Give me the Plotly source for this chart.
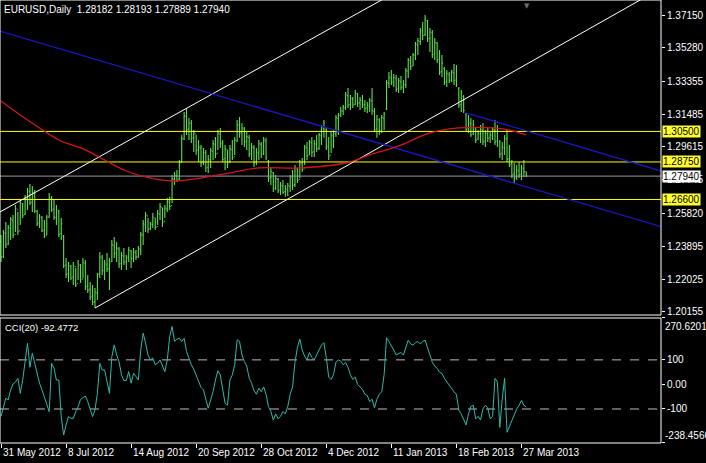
import plotly.graph_objects as go

# ---------------- DATA ----------------
title_text = "EURUSD,Daily\u00a0 1.28182 1.28193 1.27889 1.27940"
cci_title = "CCI(20) -92.4772"

open_ = [1.2420,1.2335,1.2465,1.2405,1.2495,1.2540,1.2460,1.2600,1.2480,1.2635,
 1.2575,1.2665,1.2705,1.2645,1.2695,1.2590,1.2525,1.2555,1.2485,1.2455,
 1.2560,1.2665,1.2605,1.2555,1.2595,1.2465,1.2450,1.2285,1.2235,1.2275,
 1.2215,1.2275,1.2180,1.2285,1.2205,1.2295,1.2165,1.2145,1.2105,1.2075,
 1.2125,1.2235,1.2325,1.2255,1.2285,1.2265,1.2305,1.2395,1.2355,1.2375,
 1.2295,1.2335,1.2305,1.2325,1.2365,1.2325,1.2355,1.2335,1.2375,1.2455,
 1.2515,1.2565,1.2495,1.2515,1.2555,1.2505,1.2575,1.2615,1.2535,1.2605,
 1.2645,1.2625,1.2775,1.2795,1.2775,1.2875,1.3005,1.3135,1.3065,1.3095,
 1.3015,1.3035,1.2945,1.2955,1.2875,1.2925,1.2845,1.2885,1.2935,1.2975,
 1.2925,1.3035,1.2985,1.2895,1.2945,1.2875,1.2945,1.2905,1.2995,1.3085,
 1.3045,1.3065,1.2995,1.3015,1.2925,1.2955,1.2875,1.2925,1.2975,1.2925,
 1.2995,1.2880,1.2785,1.2815,1.2725,1.2775,1.2715,1.2735,1.2705,1.2715,
 1.2735,1.2785,1.2745,1.2835,1.2775,1.2865,1.2835,1.2955,1.2915,1.2985,
 1.2935,1.2975,1.2955,1.3025,1.3065,1.3060,1.2965,1.2915,1.3025,1.3035,
 1.3125,1.3145,1.3165,1.3185,1.3255,1.3205,1.3235,1.3205,1.3265,1.3215,
 1.3225,1.3205,1.3185,1.3195,1.3225,1.3165,1.3065,1.3115,1.3055,1.3125,
 1.3180,1.3325,1.3355,1.3335,1.3355,1.3295,1.3335,1.3305,1.3315,1.3395,
 1.3455,1.3425,1.3485,1.3545,1.3565,1.3625,1.3605,1.3685,1.3585,1.3615,
 1.3495,1.3555,1.3465,1.3395,1.3410,1.3335,1.3375,1.3345,1.3385,1.3345,
 1.3295,1.3205,1.3250,1.3150,1.3065,1.3095,1.3035,1.3070,1.3005,1.3035,
 1.3055,1.2995,1.3035,1.3015,1.3025,1.3055,1.2995,1.2990,1.2925,1.2955,
 1.3005,1.2895,1.2865,1.2805,1.2785,1.2825,1.2805,1.2835,1.28182]

high = [1.2457,1.2485,1.2531,1.2514,1.2560,1.2571,1.2628,1.2588,1.2657,1.2640,
 1.2686,1.2726,1.2749,1.2737,1.2714,1.2600,1.2577,1.2565,1.2543,1.2571,
 1.2697,1.2680,1.2657,1.2628,1.2600,1.2554,1.2457,1.2325,1.2302,1.2285,
 1.2302,1.2268,1.2313,1.2291,1.2325,1.2313,1.2227,1.2187,1.2170,1.2153,
 1.2239,1.2359,1.2342,1.2313,1.2353,1.2325,1.2428,1.2445,1.2416,1.2388,
 1.2359,1.2382,1.2342,1.2388,1.2371,1.2382,1.2371,1.2394,1.2474,1.2543,
 1.2588,1.2554,1.2531,1.2583,1.2554,1.2600,1.2640,1.2611,1.2628,1.2668,
 1.2675,1.2800,1.2818,1.2829,1.2886,1.3030,1.3161,1.3184,1.3127,1.3115,
 1.3058,1.3030,1.3001,1.2972,1.2955,1.2944,1.2915,1.2955,1.3001,1.3018,
 1.3058,1.3070,1.3001,1.2972,1.2944,1.2972,1.3001,1.3018,1.3115,1.3133,
 1.3098,1.3076,1.3047,1.3030,1.2984,1.2972,1.2955,1.3001,1.2989,1.3018,
 1.3013,1.2886,1.2841,1.2818,1.2800,1.2783,1.2760,1.2772,1.2743,1.2754,
 1.2800,1.2829,1.2858,1.2841,1.2886,1.2898,1.2972,1.2989,1.3001,1.3018,
 1.3001,1.3030,1.3041,1.3087,1.3115,1.3070,1.3018,1.3047,1.3058,1.3144,
 1.3156,1.3190,1.3201,1.3276,1.3299,1.3259,1.3247,1.3287,1.3270,1.3247,
 1.3259,1.3230,1.3218,1.3241,1.3299,1.3184,1.3144,1.3127,1.3144,1.3161,
 1.3345,1.3390,1.3402,1.3379,1.3373,1.3356,1.3368,1.3345,1.3413,1.3471,
 1.3482,1.3499,1.3562,1.3585,1.3643,1.3677,1.3717,1.3688,1.3643,1.3631,
 1.3585,1.3562,1.3517,1.3488,1.3419,1.3402,1.3390,1.3402,1.3436,1.3431,
 1.3305,1.3287,1.3259,1.3156,1.3144,1.3127,1.3115,1.3076,1.3058,1.3087,
 1.3098,1.3058,1.3070,1.3047,1.3076,1.3115,1.3087,1.3001,1.2989,1.3030,
 1.3058,1.2972,1.2886,1.2869,1.2858,1.2875,1.2858,1.2886,1.28193]

low = [1.2302,1.2325,1.2382,1.2399,1.2428,1.2440,1.2474,1.2457,1.2514,1.2554,
 1.2571,1.2600,1.2628,1.2588,1.2583,1.2508,1.2497,1.2474,1.2440,1.2457,
 1.2554,1.2588,1.2543,1.2514,1.2445,1.2428,1.2268,1.2210,1.2187,1.2199,
 1.2170,1.2159,1.2199,1.2181,1.2210,1.2141,1.2124,1.2084,1.2055,1.2038,
 1.2084,1.2210,1.2227,1.2199,1.2245,1.2141,1.2302,1.2325,1.2302,1.2268,
 1.2256,1.2285,1.2256,1.2302,1.2268,1.2302,1.2313,1.2325,1.2342,1.2399,
 1.2474,1.2468,1.2485,1.2497,1.2485,1.2514,1.2543,1.2503,1.2554,1.2588,
 1.2600,1.2640,1.2743,1.2760,1.2772,1.2869,1.3001,1.3030,1.3001,1.2984,
 1.2932,1.2915,1.2875,1.2846,1.2858,1.2818,1.2812,1.2841,1.2886,1.2898,
 1.2944,1.2955,1.2875,1.2829,1.2841,1.2869,1.2886,1.2915,1.2989,1.3013,
 1.2972,1.2961,1.2944,1.2903,1.2886,1.2846,1.2858,1.2886,1.2898,1.2915,
 1.2886,1.2760,1.2743,1.2703,1.2714,1.2697,1.2686,1.2691,1.2675,1.2680,
 1.2703,1.2714,1.2732,1.2754,1.2783,1.2818,1.2858,1.2886,1.2915,1.2903,
 1.2903,1.2932,1.2944,1.2972,1.3013,1.2944,1.2886,1.2926,1.2955,1.3018,
 1.3030,1.3133,1.3144,1.3173,1.3184,1.3173,1.3184,1.3201,1.3190,1.3173,
 1.3184,1.3161,1.3156,1.3161,1.3144,1.3047,1.3013,1.3030,1.3041,1.3058,
 1.3173,1.3299,1.3316,1.3305,1.3276,1.3270,1.3287,1.3270,1.3299,1.3356,
 1.3402,1.3425,1.3459,1.3488,1.3545,1.3574,1.3597,1.3562,1.3505,1.3471,
 1.3459,1.3442,1.3373,1.3362,1.3316,1.3305,1.3327,1.3333,1.3316,1.3305,
 1.3184,1.3161,1.3156,1.3047,1.3041,1.3018,1.3030,1.2984,1.3001,1.2984,
 1.2972,1.2961,1.2989,1.2984,1.3001,1.2972,1.2961,1.2898,1.2886,1.2915,
 1.2875,1.2846,1.2783,1.2754,1.2772,1.2783,1.2772,1.2789,1.27889]

close = [1.2330,1.2470,1.2400,1.2500,1.2545,1.2455,1.2610,1.2475,1.2640,1.2570,
 1.2670,1.2710,1.2640,1.2700,1.2595,1.2520,1.2560,1.2480,1.2450,1.2560,
 1.2670,1.2600,1.2560,1.2600,1.2460,1.2520,1.2280,1.2230,1.2280,1.2210,
 1.2280,1.2170,1.2290,1.2200,1.2300,1.2160,1.2140,1.2100,1.2070,1.2130,
 1.2230,1.2330,1.2250,1.2290,1.2260,1.2300,1.2400,1.2350,1.2380,1.2290,
 1.2340,1.2300,1.2330,1.2370,1.2320,1.2360,1.2330,1.2380,1.2460,1.2520,
 1.2570,1.2490,1.2520,1.2560,1.2500,1.2580,1.2620,1.2530,1.2610,1.2650,
 1.2620,1.2780,1.2800,1.2770,1.2870,1.3010,1.3140,1.3060,1.3100,1.3010,
 1.3040,1.2940,1.2960,1.2870,1.2930,1.2840,1.2890,1.2940,1.2980,1.2920,
 1.3040,1.2980,1.2890,1.2950,1.2870,1.2950,1.2900,1.3000,1.3090,1.3040,
 1.3070,1.2990,1.3020,1.2920,1.2960,1.2870,1.2930,1.2980,1.2920,1.3000,
 1.2900,1.2780,1.2820,1.2720,1.2780,1.2710,1.2740,1.2700,1.2720,1.2740,
 1.2790,1.2740,1.2840,1.2770,1.2870,1.2830,1.2960,1.2910,1.2990,1.2930,
 1.2980,1.2950,1.3030,1.3070,1.3100,1.2960,1.2910,1.3030,1.3040,1.3130,
 1.3140,1.3170,1.3190,1.3260,1.3200,1.3240,1.3200,1.3270,1.3210,1.3230,
 1.3200,1.3180,1.3200,1.3230,1.3170,1.3060,1.3120,1.3050,1.3130,1.3150,
 1.3330,1.3360,1.3330,1.3360,1.3290,1.3340,1.3300,1.3320,1.3400,1.3460,
 1.3420,1.3490,1.3550,1.3570,1.3630,1.3600,1.3690,1.3580,1.3620,1.3490,
 1.3560,1.3460,1.3390,1.3440,1.3330,1.3380,1.3340,1.3390,1.3340,1.3320,
 1.3200,1.3270,1.3170,1.3060,1.3100,1.3030,1.3090,1.3000,1.3040,1.3060,
 1.2990,1.3040,1.3010,1.3030,1.3060,1.2990,1.3050,1.2920,1.2960,1.3010,
 1.2890,1.2860,1.2800,1.2780,1.2830,1.2800,1.2840,1.2820,1.27940]

cci = [-130,-90,-56,-63,-22,2,10,25,-36,18,
 100,168,70,127,86,46,5,-22,-52,-84,
 -111,86,66,18,18,-131,-206,-165,-131,-138,
 -138,-111,-90,-61,-52,-47,-70,-101,-131,-104,
 -36,86,59,59,12,-36,113,161,120,93,
 39,16,16,52,5,46,32,18,141,209,
 168,120,100,107,80,86,100,73,52,100,
 195,236,175,184,188,175,188,134,107,80,
 62,35,12,-12,-22,-61,-97,-63,-29,18,
 56,39,-22,-77,-84,18,39,80,182,175,
 120,93,75,25,5,-25,-40,-15,-30,-10,
 -40,-90,-110,-145,-120,-140,-130,-110,-120,-90,
 -40,-10,90,150,185,140,115,100,130,110,
 100,120,140,160,170,110,30,20,40,90,
 100,95,80,90,70,40,20,30,0,-10,
 -20,-40,-45,-70,-60,-95,-60,-40,-30,40,
 190,175,160,140,120,125,130,120,150,180,
 165,160,170,175,165,175,180,150,120,90,
 75,65,50,45,25,10,0,-15,-30,-40,
 -105,-120,-140,-165,-120,-90,-85,-140,-130,-145,
 -100,-85,-95,-140,-130,25,10,-175,-60,25,
 -195,-170,-145,-120,-100,-85,-65,-85,-92]

bars = list(range(len(close)))

# moving average (red), sampled at bar indices
ma_bars = [0, 8, 16, 24, 35, 43, 51, 60, 66, 72, 83, 95, 107, 124, 143, 153, 166, 178, 190, 204, 211, 218]
ma_vals = [1.3224, 1.3144, 1.3070, 1.3001, 1.2944, 1.2886, 1.2829, 1.2789, 1.2772, 1.2766, 1.2783,
           1.2812, 1.2841, 1.2841, 1.2869, 1.2915, 1.2972, 1.3041, 1.3070, 1.3070, 1.3058, 1.3030]

# trend lines: (bar, price) anchors
white_upper = ([-0.5, 160], [1.2588, 1.3819])
white_lower = ([39, 270], [1.2038, 1.3840])
blue_lower = ([-0.5, 274], [1.3625, 1.2504])
blue_upper = ([193, 274], [1.3156, 1.2823])

levels = [1.30500, 1.28750, 1.26600]
level_labels = ["1.30500", "1.28750", "1.26600"]
bid = 1.27940
bid_label = "1.27940"

price_ticks = [1.37150, 1.35280, 1.33355, 1.31485, 1.29615, 1.27745, 1.25820, 1.23895, 1.22025, 1.20155]
price_tick_text = ["1.37150", "1.35280", "1.33355", "1.31485", "1.29615", "1.27745", "1.25820", "1.23895", "1.22025", "1.20155"]

cci_max, cci_min = 270.6201, -238.4566
cci_levels = [100, -100]
cci_ticks = [cci_max, 100, 0, -100, cci_min]
cci_tick_text = ["", "100", "0.00", "-100", ""]

date_bars = [0, 27, 54, 81, 108, 135, 162, 189, 216]
date_labels = ["31 May 2012", "8 Jul 2012", "14 Aug 2012", "20 Sep 2012", "28 Oct 2012",
               "4 Dec 2012", "11 Jan 2013", "18 Feb 2013", "27 Mar 2013"]

# ---------------- STYLE ----------------
FONT = "Liberation Sans, Arial, sans-serif"
GREEN = "#5CE048"
XR = [-0.415, 273.9]
MAIN_DOM = [0.2889, 1.0]
CCI_DOM = [0.0, 0.2822]

fig = go.Figure()

# horizontal levels
for lv in levels:
    fig.add_trace(go.Scatter(x=XR, y=[lv, lv], mode="lines",
                             line=dict(color="#FFFF00", width=1), xaxis="x", yaxis="y"))
fig.add_trace(go.Scatter(x=XR, y=[bid, bid], mode="lines",
                         line=dict(color="#9A9AAA", width=1), xaxis="x", yaxis="y"))

# trend lines
for xs, ys in (white_upper, white_lower):
    fig.add_trace(go.Scatter(x=xs, y=ys, mode="lines", line=dict(color="#FFFFFF", width=1),
                             xaxis="x", yaxis="y"))
for xs, ys in (blue_lower, blue_upper):
    fig.add_trace(go.Scatter(x=xs, y=ys, mode="lines", line=dict(color="#1818C0", width=1.3),
                             xaxis="x", yaxis="y"))

# moving average
fig.add_trace(go.Scatter(x=ma_bars, y=ma_vals, mode="lines",
                         line=dict(color="#D01818", width=1.3, shape="spline"),
                         xaxis="x", yaxis="y"))

# OHLC bars
fig.add_trace(go.Ohlc(x=bars, open=open_, high=high, low=low, close=close,
                      increasing=dict(line=dict(color=GREEN, width=1.1)),
                      decreasing=dict(line=dict(color=GREEN, width=1.1)),
                      tickwidth=0.4, xaxis="x", yaxis="y", hoverinfo="skip"))

# CCI pane
for lv in cci_levels:
    fig.add_trace(go.Scatter(x=XR, y=[lv, lv], mode="lines",
                             line=dict(color="#BEBEBE", width=1, dash="dash"),
                             xaxis="x2", yaxis="y2"))
fig.add_trace(go.Scatter(x=bars, y=cci, mode="lines",
                         line=dict(color="#2FB8AA", width=1), xaxis="x2", yaxis="y2"))

tickfont = dict(family=FONT, size=10, color="#FFFFFF")

annotations = [
    dict(text=title_text, x=0, y=1, xref="paper", yref="paper", xanchor="left", yanchor="top",
         xshift=2, yshift=-2, showarrow=False, font=dict(family=FONT, size=10, color="#FFFFFF")),
    dict(text=cci_title, x=0, y=CCI_DOM[1], xref="paper", yref="paper", xanchor="left", yanchor="top",
         xshift=3, yshift=-2, showarrow=False, font=dict(family=FONT, size=9.5, color="#FFFFFF")),
    dict(text=f"{cci_max:.4f}", x=1, y=cci_max, xref="paper", yref="y2", xanchor="left", yanchor="top",
         xshift=2, yshift=-1, showarrow=False, font=tickfont),
    dict(text=f"{cci_min:.4f}", x=1, y=cci_min, xref="paper", yref="y2", xanchor="left", yanchor="bottom",
         xshift=2, showarrow=False, font=tickfont),
    dict(text="\u25BC", x=218.3, y=1, xref="x", yref="paper", yanchor="top", showarrow=False,
         font=dict(family="DejaVu Sans", size=7, color="#707070")),
]
for lv, lab in zip(levels, level_labels):
    annotations.append(dict(text=lab, x=1, y=lv, xref="paper", yref="y", xanchor="left", yanchor="middle",
                            xshift=1, showarrow=False, bgcolor="#FFFF33", borderpad=0,
                            font=dict(family=FONT, size=10, color="#000000")))
annotations.append(dict(text=bid_label, x=1, y=bid, xref="paper", yref="y", xanchor="left", yanchor="middle",
                        xshift=1, showarrow=False, bgcolor="#FFFFFF", borderpad=0,
                        font=dict(family=FONT, size=10, color="#000000")))
for b, lab in zip(date_bars, date_labels):
    annotations.append(dict(text=lab, x=b, y=0, xref="x2", yref="paper", xanchor="left", yanchor="top",
                            xshift=0, yshift=-2, showarrow=False, font=tickfont))

shapes = [
    dict(type="rect", xref="paper", yref="paper", x0=0, x1=1, y0=MAIN_DOM[0], y1=MAIN_DOM[1],
         line=dict(color="#FFFFFF", width=1)),
    dict(type="rect", xref="paper", yref="paper", x0=0, x1=1, y0=CCI_DOM[0], y1=CCI_DOM[1],
         line=dict(color="#FFFFFF", width=1)),
]

fig.update_layout(
    width=706, height=463,
    margin=dict(l=0, r=45, t=0, b=20),
    paper_bgcolor="#000000", plot_bgcolor="#000000",
    showlegend=False, hovermode=False,
    annotations=annotations, shapes=shapes,
    xaxis=dict(domain=[0, 1], anchor="y", range=XR, showgrid=False, zeroline=False,
               showticklabels=False, ticks="", matches="x2", rangeslider=dict(visible=False)),
    xaxis2=dict(domain=[0, 1], anchor="y2", range=XR, showgrid=False, zeroline=False,
                showticklabels=False, ticks="outside", ticklen=4, tickcolor="#FFFFFF",
                tickvals=date_bars),
    yaxis=dict(domain=MAIN_DOM, anchor="x", side="right", range=[1.1998, 1.3803],
               tickvals=price_ticks, ticktext=price_tick_text, ticks="outside", ticklen=3,
               tickcolor="#FFFFFF", tickfont=tickfont, showgrid=False, zeroline=False),
    yaxis2=dict(domain=CCI_DOM, anchor="x2", side="right", range=[cci_min, cci_max],
                tickvals=cci_ticks, ticktext=cci_tick_text, ticks="outside", ticklen=3,
                tickcolor="#FFFFFF", tickfont=tickfont, showgrid=False, zeroline=False),
)

fig.write_html(
    "out.html",
    config={"displayModeBar": False, "staticPlot": True},
    post_script="document.body.style.margin='0';document.body.style.padding='0';"
                "document.body.style.overflow='hidden';document.body.style.background='#000';",
)
